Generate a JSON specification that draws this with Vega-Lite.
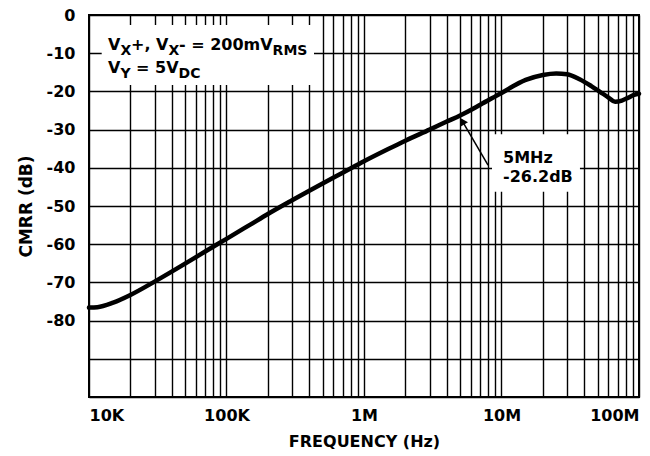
{
  "$schema": "https://vega.github.io/schema/vega-lite/v6.json",
  "width": 550,
  "height": 382,
  "autosize": {"type": "none"},
  "padding": {"left": 89, "top": 15, "right": 11, "bottom": 59},
  "background": "white",
  "config": {
    "font": "DejaVu Sans",
    "view": {"stroke": "black", "strokeWidth": 2},
    "axis": {
      "ticks": false,
      "domain": false,
      "grid": true,
      "gridColor": "black",
      "gridWidth": 1.4,
      "gridOpacity": 1,
      "labelFont": "DejaVu Sans",
      "labelFontWeight": "bold",
      "labelFontSize": 16,
      "labelColor": "black",
      "labelOverlap": false,
      "titleFont": "DejaVu Sans",
      "titleFontWeight": "bold",
      "titleColor": "black"
    }
  },
  "datasets": {
    "curve": [
      {"f": 10000, "db": -76.6},
      {"f": 11500, "db": -76.5},
      {"f": 15000, "db": -75.3},
      {"f": 20000, "db": -73.3},
      {"f": 30000, "db": -69.8},
      {"f": 50000, "db": -65.1},
      {"f": 70000, "db": -61.9},
      {"f": 100000, "db": -58.6},
      {"f": 150000, "db": -54.8},
      {"f": 200000, "db": -52.1},
      {"f": 300000, "db": -48.5},
      {"f": 500000, "db": -44.1},
      {"f": 700000, "db": -41.3},
      {"f": 1000000, "db": -38.3},
      {"f": 1500000, "db": -35.1},
      {"f": 2000000, "db": -32.9},
      {"f": 3000000, "db": -30.0},
      {"f": 4000000, "db": -27.9},
      {"f": 5000000, "db": -26.3},
      {"f": 7000000, "db": -23.5},
      {"f": 10000000, "db": -20.4},
      {"f": 15000000, "db": -17.0},
      {"f": 20000000, "db": -15.7},
      {"f": 25000000, "db": -15.3},
      {"f": 30000000, "db": -15.5},
      {"f": 37000000, "db": -16.8},
      {"f": 45000000, "db": -18.6},
      {"f": 52000000, "db": -20.1},
      {"f": 60000000, "db": -21.6},
      {"f": 67000000, "db": -22.7},
      {"f": 75000000, "db": -22.4},
      {"f": 83000000, "db": -21.7},
      {"f": 92000000, "db": -20.9},
      {"f": 100000000, "db": -20.6}
    ],
    "boxes": [
      {"f": 12370, "f2": 432900, "db": -2.6, "d2": -18.3},
      {"f": 8530000, "f2": 37200000, "db": -31.2, "d2": -46.3}
    ],
    "mainText": [
      {"f": 13750, "db": -9.16, "t": "V"},
      {"f": 20205, "db": -9.16, "t": "+, V"},
      {"f": 45117, "db": -9.16, "t": "- = 200mV"},
      {"f": 13750, "db": -15.31, "t": "V"},
      {"f": 22005, "db": -15.31, "t": "= 5V"},
      {"f": 10260000, "db": -38.74, "t": "5MHz"},
      {"f": 10260000, "db": -43.72, "t": "-26.2dB"}
    ],
    "subText": [
      {"f": 16920, "db": -10.6, "t": "X"},
      {"f": 37793, "db": -10.6, "t": "X"},
      {"f": 216400, "db": -10.6, "t": "RMS"},
      {"f": 16920, "db": -16.6, "t": "Y"},
      {"f": 44815, "db": -16.6, "t": "DC"}
    ],
    "arrow": [
      {"f": 7980000, "db": -39.3, "f2": 5100000, "d2": -27.3}
    ],
    "arrowHead": [
      {"f": 5210000, "db": -27.83}
    ]
  },
  "encoding": {
    "x": {
      "field": "f", "type": "quantitative",
      "scale": {"type": "log", "domain": [10000, 100000000]},
      "axis": {
        "values": [10000, 20000, 30000, 40000, 50000, 60000, 70000, 80000, 90000,
                   100000, 200000, 300000, 400000, 500000, 600000, 700000, 800000, 900000,
                   1000000, 2000000, 3000000, 4000000, 5000000, 6000000, 7000000, 8000000, 9000000,
                   10000000, 20000000, 30000000, 40000000, 50000000, 60000000, 70000000, 80000000, 90000000,
                   100000000],
        "labelExpr": "datum.value == 10000 ? '10K' : datum.value == 100000 ? '100K' : datum.value == 1000000 ? '1M' : datum.value == 10000000 ? '10M' : datum.value == 100000000 ? '100M' : ''",
        "labelFlush": true,
        "labelPadding": 10,
        "title": "FREQUENCY (Hz)",
        "titleFontSize": 16,
        "titlePadding": 10
      }
    },
    "y": {
      "field": "db", "type": "quantitative",
      "scale": {"domain": [-100, 0]},
      "axis": {
        "values": [0, -10, -20, -30, -40, -50, -60, -70, -80, -90, -100],
        "labelExpr": "datum.value < -85 ? '' : '' + datum.value",
        "labelPadding": 14,
        "title": "CMRR (dB)",
        "titleFontSize": 17,
        "titlePadding": 11
      }
    }
  },
  "layer": [
    {
      "data": {"name": "boxes"},
      "mark": {"type": "rect", "fill": "white", "strokeWidth": 0},
      "encoding": {
        "x2": {"field": "f2"},
        "y2": {"field": "d2"}
      }
    },
    {
      "data": {"name": "curve"},
      "mark": {"type": "line", "color": "black", "strokeWidth": 4.5, "interpolate": "monotone", "strokeCap": "round", "strokeJoin": "round"}
    },
    {
      "data": {"name": "arrow"},
      "mark": {"type": "rule", "color": "black", "strokeWidth": 1.5},
      "encoding": {
        "x2": {"field": "f2"},
        "y2": {"field": "d2"}
      }
    },
    {
      "data": {"name": "arrowHead"},
      "mark": {"type": "point", "shape": "triangle-up", "filled": true, "color": "black", "opacity": 1, "size": 70, "angle": 330}
    },
    {
      "data": {"name": "mainText"},
      "mark": {"type": "text", "align": "left", "baseline": "alphabetic", "font": "DejaVu Sans", "fontWeight": "bold", "fontSize": 16, "color": "black"},
      "encoding": {
        "text": {"field": "t"}
      }
    },
    {
      "data": {"name": "subText"},
      "mark": {"type": "text", "align": "left", "baseline": "alphabetic", "font": "DejaVu Sans", "fontWeight": "bold", "fontSize": 14, "color": "black"},
      "encoding": {
        "text": {"field": "t"}
      }
    }
  ]
}
